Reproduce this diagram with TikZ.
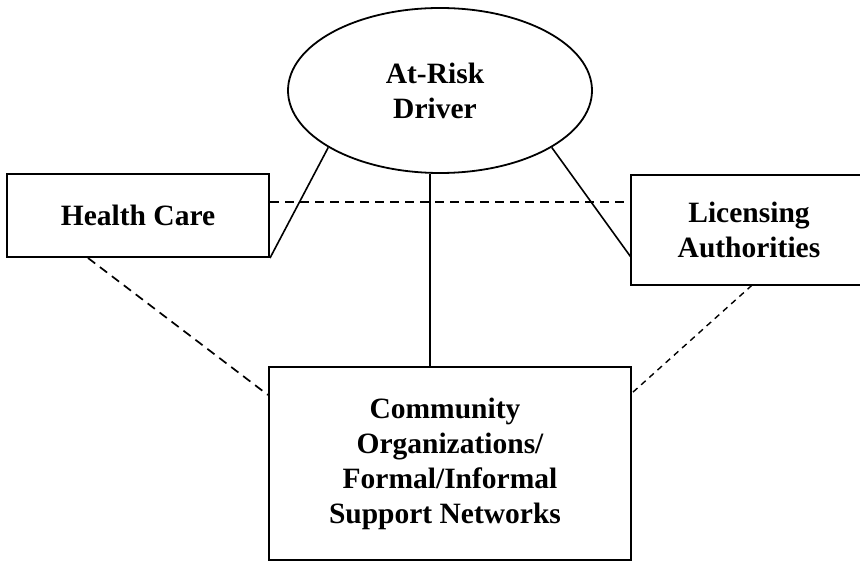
\documentclass[tikz,border=0pt]{standalone}
\usepackage{fontspec}
\setmainfont{Liberation Serif}
\usetikzlibrary{shapes.geometric}
\begin{document}
\begin{tikzpicture}[x=1pt,y=-1pt,
  every node/.style={font=\fontsize{29.5}{35}\selectfont\bfseries, align=center, inner sep=0pt},
  boxnode/.style={draw, line width=2pt, rectangle},
  ovalnode/.style={draw, line width=1.8pt, ellipse},
  solidlink/.style={line width=1.6pt},
  dashlink/.style={line width=1.7pt, dash pattern=on 9pt off 6pt},
  finelink/.style={line width=1.4pt, dash pattern=on 6pt off 5pt}]
  \useasboundingbox (0,0) rectangle (860,561);
  \clip (0,0) rectangle (860,561);

  % participants
  \node[ovalnode, minimum width=304pt, minimum height=165pt] (drv) at (440,90.5)
    {At-Risk\hspace*{10pt}\\Driver\hspace*{10pt}};
  \node[boxnode, minimum width=262pt, minimum height=83pt] (hc) at (138,215.5)
    {Health Care};
  % this box runs past the right margin, so its east side is never drawn
  \node[minimum width=260pt, minimum height=110pt] (lic) at (761,230)
    {Licensing\hspace*{24pt}\\Authorities\hspace*{24pt}};
  \draw[line width=2pt] (lic.north east) -- (lic.north west) -- (lic.south west) -- (lic.south east);
  \node[boxnode, minimum width=362pt, minimum height=193pt] (com) at (450,463.5)
    {Community\hspace*{10pt}\\Organizations/\hspace*{6pt}\\Formal/Informal\hspace*{10pt}\\Support Networks\hspace*{10pt}};

  % direct links from the driver
  \draw[solidlink] (drv.207) -- (hc.south east);
  \draw[solidlink] (drv.333) -- ([yshift=-27pt]lic.west);
  \draw[solidlink] ([xshift=-20pt]com.north) -- ([xshift=-20pt]com.north |- drv.south);

  % links between the supporting parties
  \draw[dashlink] ([yshift=13.5pt]hc.east) -- ([yshift=13.5pt]hc.east -| lic.west);
  \draw[dashlink] ([xshift=-50pt]hc.south) -- ([yshift=68.5pt]com.west);
  \draw[finelink] ([xshift=-9pt]lic.south) -- ([yshift=70.5pt]com.east);
\end{tikzpicture}
\end{document}
